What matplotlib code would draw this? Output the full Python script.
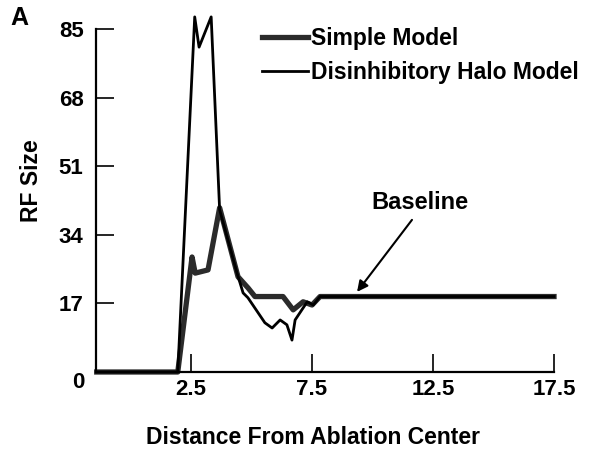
import matplotlib; matplotlib.use("Agg")
import matplotlib.pyplot as plt

simple_x = [-1.4, 1.95, 2.54, 2.67, 3.2, 3.68, 4.44, 4.86, 5.14, 6.3, 6.72, 7.13, 7.5, 7.83, 17.5]
simple_y = [0, 0, 28.5, 24.5, 25.3, 40.7, 23.6, 20.8, 18.7, 18.7, 15.4, 17.4, 16.6, 18.7, 18.7]
halo_x = [-1.4, 1.95, 2.65, 2.83, 3.33, 3.68, 4.4, 4.65, 4.85, 5.55, 5.85, 6.18, 6.46, 6.67, 6.8, 7.3, 7.55, 7.83, 17.5]
halo_y = [0, 0, 88, 80.5, 88, 40.2, 24.5, 19.6, 18.4, 12.2, 10.9, 12.9, 11.7, 7.9, 12.9, 17.4, 16.6, 18.7, 18.7]
xticks = [2.5, 7.5, 12.5, 17.5]
yticks = [17, 34, 51, 68, 85]

plt.rcParams["font.family"] = ["Liberation Sans", "DejaVu Sans"]
plt.rcParams["font.weight"] = "bold"

fig = plt.figure(figsize=(5.95, 4.53), dpi=100)
ax = fig.add_axes([96/595, 1-372/453, 458/595, 343/453])
ax.plot(simple_x, simple_y, color="#2b2b2b", lw=3.8, clip_on=False, label="Simple Model")
ax.plot(halo_x, halo_y, color="black", lw=2.0, clip_on=False, label="Disinhibitory Halo Model")

ax.set_xlim(-1.43, 17.5); ax.set_ylim(0, 85)
ax.set_xticks(xticks); ax.set_xticklabels([f"{v:g}" for v in xticks])
ax.set_yticks(yticks)
ax.tick_params(direction="in", length=13, width=1.2, labelsize=16)
ax.tick_params(axis="y", pad=9)
ax.tick_params(axis="x", pad=5)
for s in ["top", "right"]: ax.spines[s].set_visible(False)
for s in ["left", "bottom"]: ax.spines[s].set_linewidth(1.6)
ax.text(-0.026, -0.032, "0", transform=ax.transAxes, ha="right", va="center", fontsize=16, fontweight="bold")

fig.text(313/595, 1-438/453, "Distance From Ablation Center", fontsize=16.5, fontweight="bold", ha="center", va="center")
fig.text(32/595, 1-181/453, "RF Size", fontsize=16.5, fontweight="bold", rotation=90, ha="center", va="center")
fig.text(19/595, 1-18/453, "A", fontsize=18, fontweight="bold", ha="center", va="center")

fig.legend(loc="upper left", bbox_to_anchor=(262/595, 1-27/453), frameon=False, fontsize=16.5,
           handlelength=2.0, handletextpad=0.15, labelspacing=0.5, borderpad=0, borderaxespad=0)
ax.text(11.97, 42, "Baseline", fontsize=17, fontweight="bold", ha="center", va="center")
ax.annotate("", xy=(9.36, 19.85), xytext=(11.63, 37.7),
            arrowprops=dict(arrowstyle="-|>", color="black", lw=1.5, mutation_scale=16, shrinkA=0, shrinkB=0))

fig.savefig("out.png", dpi=100)
